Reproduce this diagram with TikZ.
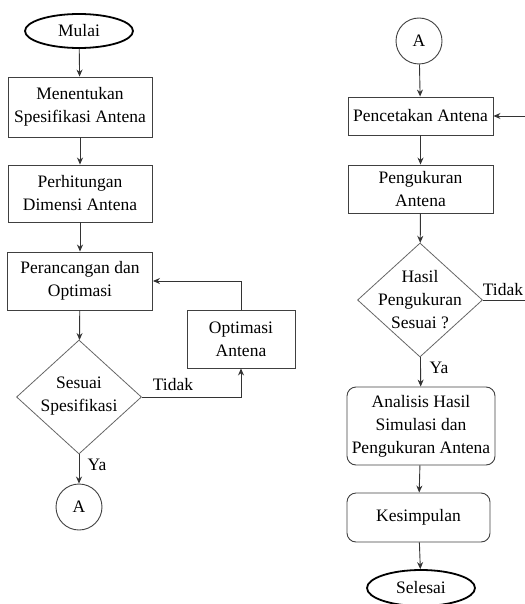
\documentclass[tikz,border=0pt]{standalone}
\usepackage{fontspec}
\setmainfont{Liberation Serif}
\usetikzlibrary{shapes.geometric,arrows.meta}
\begin{document}
\begin{tikzpicture}[x=1pt,y=-1pt,
  font=\fontsize{17.5}{23}\selectfont,
  box/.style={draw=black!75, line width=0.9pt, rectangle, align=center, inner sep=0pt},
  rbox/.style={box, rounded corners=9pt},
  term/.style={draw=black, line width=1.8pt, ellipse, inner sep=0pt},
  conn/.style={draw=black!75, line width=0.9pt, circle, inner sep=0pt, minimum size=46pt},
  dia/.style={draw=black!60, line width=0.8pt, diamond, inner sep=0pt},
  lbl/.style={align=center, inner sep=0pt},
  arr/.style={draw=black!80, line width=0.9pt, -{Stealth[length=7pt,width=6pt]}},
  ln/.style={draw=black!70, line width=0.9pt}
]
\useasboundingbox (0,0) rectangle (524,604);

% left column
\node[term, minimum width=108pt, minimum height=34pt] (mulai) at (79,31) {Mulai};
\node[box, minimum width=144pt, minimum height=60pt] (tentukan) at (80,107) {Menentukan\\Spesifikasi Antena};
\node[box, minimum width=144pt, minimum height=57pt] (hitung) at (80,193.5) {Perhitungan\\Dimensi Antena};
\node[box, minimum width=145pt, minimum height=58pt] (rancang) at (80,281) {Perancangan dan\\Optimasi};
\node[dia, minimum width=125pt, minimum height=114pt] (sesuai) at (79,397) {};
\node[lbl] (sesuaitxt) at (79,396) {Sesuai\\Spesifikasi};
\node[box, minimum width=108pt, minimum height=58pt] (optim) at (241,339) {Optimasi\\Antena};
\node[conn] (aleft) at (79,507) {A};
\node[lbl] (tidak1) at (173,385) {Tidak};
\node[lbl] (ya1) at (97,465) {Ya};

\draw[arr] (mulai) -- (tentukan);
\draw[arr] (tentukan) -- (hitung);
\draw[arr] (hitung) -- (rancang);
\draw[arr] (rancang) -- (sesuai);
\draw[arr] (sesuai) -- (aleft);
\draw[arr] (sesuai.east) -| (optim.south);
\draw[arr] (optim.north) |- (rancang.east);

% right column
\node[conn] (aright) at (419,41) {A};
\node[box, minimum width=145pt, minimum height=38pt] (cetak) at (420.5,116) {Pencetakan Antena};
\node[box, minimum width=145pt, minimum height=48pt] (ukur) at (420.5,189) {Pengukuran\\Antena};
\node[dia, minimum width=125pt, minimum height=114pt] (hasil) at (420,300) {};
\node[lbl] (hasiltxt) at (420,300) {Hasil\\Pengukuran\\Sesuai ?};
\node[rbox, minimum width=148pt, minimum height=78pt] (analisis) at (421,426) {Analisis Hasil\\Simulasi dan\\Pengukuran Antena};
\node[rbox, minimum width=143pt, minimum height=49pt] (simpul) at (418.5,517.5) {Kesimpulan};
\node[term, minimum width=108pt, minimum height=36pt] (selesai) at (421,588) {Selesai};
\node[lbl] (tidak2) at (503,290) {Tidak};
\node[lbl] (ya2) at (439,368) {Ya};
\coordinate (offa) at (534,300);
\coordinate (offb) at (534,116);

\draw[arr] (aright) -- (cetak);
\draw[arr] (cetak) -- (ukur);
\draw[arr] (ukur) -- (hasil);
\draw[arr] (hasil) -- (analisis);
\draw[arr] (analisis) -- (simpul);
\draw[arr] (simpul) -- (selesai);
\draw[arr] (hasil.east) -- (offa) -- (offb) -- (cetak.east);
\end{tikzpicture}
\end{document}
